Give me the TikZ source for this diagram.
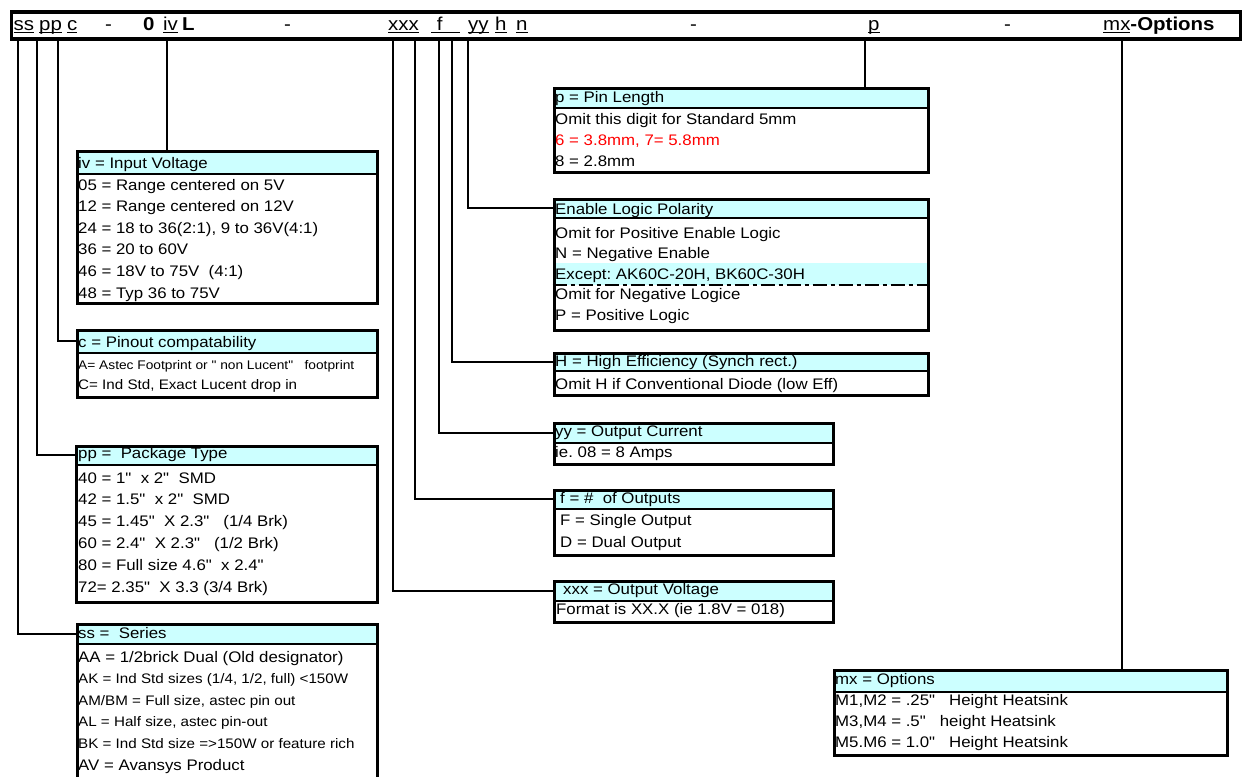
\documentclass[tikz,border=0pt]{standalone}
\usepackage{fontspec}
\setmainfont{Liberation Sans}[FakeStretch=1.1, Ligatures=TeXOff]
\usetikzlibrary{positioning}
\definecolor{hdcyan}{HTML}{CCFFFF}
\newcommand\undl[1]{\setbox0\hbox{#1}\rlap{\rule[-2.4pt]{\wd0}{1.3pt}}\box0}
\newcommand\medsz{\fontsize{13.8}{16}\selectfont}
\newcommand\smsz{\fontsize{12.5}{15}\selectfont}
\tikzset{
  partbar/.style={draw, line width=3.5pt, anchor=north west, inner sep=0pt},
  boxframe/.style={draw, line width=3.5pt, anchor=north west, inner sep=0pt},
  hdband/.style={draw, fill=hdcyan, line width=2pt, anchor=north west, inner sep=0pt},
  tok/.style={anchor=base west, inner sep=0pt, font=\fontsize{18.6}{22}\selectfont},
  txt/.style={anchor=base west, inner sep=0pt, font=\fontsize{15.3}{18}\selectfont},
  conn/.style={line width=1.8pt},
}
\begin{document}
\frenchspacing
\begin{tikzpicture}[x=1pt,y=-1pt]
\useasboundingbox (0,0) rectangle (1244,776);
\clip (0,0) rectangle (1244,776);
% part number bar
\node[partbar, minimum width=1229pt, minimum height=27pt] (bar) at (9.5,10.5) {};
\node[tok] (hss) at (13.5,31) {\undl{ss}};
\node[tok] (hpp) at (39,31) {\undl{pp}};
\node[tok] (hc) at (67,31) {\undl{c}};
\node[tok] (hd1) at (105,31) {-};
\node[tok] (h0) at (143,31) {\textbf{0}};
\node[tok] (hiv) at (163,31) {\undl{iv}};
\node[tok] (hL) at (182,31) {\textbf{L}};
\node[tok] (hd2) at (284,31) {-};
\node[tok] (hxxx) at (388,31) {\undl{xxx}};
\node[tok] (hf) at (431,31) {\undl{\ f\ \ \ }};
\node[tok] (hyy) at (468,31) {\undl{yy}};
\node[tok] (hh) at (495,31) {\undl{h}};
\node[tok] (hn) at (516,31) {\undl{n}};
\node[tok] (hd3) at (690,31) {-};
\node[tok] (hp) at (868,31) {\undl{p}};
\node[tok] (hd4) at (1004,31) {-};
\node[tok] (hmx) at (1103,31) {\undl{mx}\textbf{-Options}};
% drop points under the bar
\coordinate (tss) at (18,39);
\coordinate (tpp) at (37,39);
\coordinate (tc) at (58,39);
\coordinate (tiv) at (167,39);
\coordinate (txxx) at (393,39);
\coordinate (tf) at (415,39);
\coordinate (tyy) at (439,39);
\coordinate (th) at (452,39);
\coordinate (tn) at (468,39);
\coordinate (tp) at (865,39);
\coordinate (tmx) at (1122,39);

% iv = input voltage
\node[hdband, minimum width=300pt, minimum height=23.5pt] (ivhd) at (75.5,149.5) {};
\node[txt] (ivt0) at (78,168) {iv = Input Voltage};
\foreach \t [count=\i] in {{05 = Range centered on 5V}, {12 = Range centered on 12V},
    {24 = 18 to 36(2:1), 9 to 36V(4:1)}, {36 = 20 to 60V}, {46 = 18V to 75V\ \ (4:1)},
    {48 = Typ 36 to 75V}}
  \node[txt] (ivt\i) at (78,{168.4+21.6*\i}) {\t};
\node[boxframe, minimum width=300pt, minimum height=152pt] (ivbox) at (75.5,149.5) {};

% c = pinout
\node[hdband, minimum width=300pt, minimum height=23.5pt] (chd) at (75.5,328.5) {};
\node[txt] (ct0) at (78,347) {c = Pinout compatability};
\node[txt] (ct1) at (78,369) {\smsz A= Astec Footprint or "\ non Lucent"\ \ \ footprint};
\node[txt] (ct2) at (78,389) {\medsz C= Ind Std, Exact Lucent drop in};
\node[boxframe, minimum width=300pt, minimum height=67pt] (cbox) at (75.5,328.5) {};

% pp = package
\node[hdband, minimum width=301pt, minimum height=19pt] (pphd) at (74.5,444.5) {};
\node[txt] (ppt0) at (78,458) {pp =\ \ Package Type};
\foreach \t [count=\i] in {{40 = 1"\ \ x 2"\ \ SMD}, {42 = 1.5"\ \ x 2"\ \ SMD},
    {45 = 1.45"\ \ X 2.3"\ \ \ (1/4 Brk)}, {60 = 2.4"\ \ X 2.3"\ \ \ (1/2 Brk)},
    {80 = Full size 4.6"\ \ x 2.4"}, {72= 2.35"\ \ X 3.3 (3/4 Brk)}}
  \node[txt] (ppt\i) at (78,{461.2+21.8*\i}) {\t};
\node[boxframe, minimum width=301pt, minimum height=156pt] (ppbox) at (74.5,444.5) {};

% ss = series
\node[hdband, minimum width=300pt, minimum height=20.5pt] (sshd) at (75.5,622.5) {};
\node[txt] (sst0) at (78,638) {ss =\ \ Series};
\foreach \t [count=\i] in {{AA = 1/2brick Dual (Old designator)},
    {\medsz AK = Ind Std sizes (1/4, 1/2, full) <150W}, {\medsz AM/BM = Full size, astec pin out},
    {\medsz AL = Half size, astec pin-out}, {\medsz BK = Ind Std size =>150W or feature rich},
    {AV = Avansys Product}}
  \node[txt] (sst\i) at (78,{640.4+21.6*\i}) {\t};
\node[boxframe, minimum width=300pt, minimum height=170pt] (ssbox) at (75.5,622.5) {};

% p = pin length
\node[hdband, minimum width=374pt, minimum height=20.5pt] (phd) at (552.5,86.5) {};
\node[txt] (pt0) at (555,102) {p = Pin Length};
\foreach \t [count=\i] in {{Omit this digit for Standard 5mm}, {\color{red}6 = 3.8mm, 7= 5.8mm},
    {8 = 2.8mm}}
  \node[txt] (pt\i) at (555,{103+21*\i}) {\t};
\node[boxframe, minimum width=374pt, minimum height=84pt] (pbox) at (552.5,86.5) {};

% enable logic
\node[hdband, minimum width=374pt, minimum height=19.5pt] (enhd) at (552.5,197.5) {};
\fill[hdcyan] (552.5,263) rectangle (926.5,285);
\draw[line width=2pt, dash pattern=on 14pt off 4pt on 4pt off 4pt] (552.5,285) -- (926.5,285);
\node[txt] (ent0) at (555,214) {Enable Logic Polarity};
\foreach \t [count=\i] in {{Omit for Positive Enable Logic}, {N = Negative Enable},
    {Except: AK60C-20H, BK60C-30H}, {Omit for Negative Logice}, {P = Positive Logic}}
  \node[txt] (ent\i) at (555,{217.5+20.5*\i}) {\t};
\node[boxframe, minimum width=374pt, minimum height=131pt] (enbox) at (552.5,197.5) {};

% H = efficiency
\node[hdband, minimum width=374pt, minimum height=18.5pt] (hhd) at (552.5,351.5) {};
\node[txt] (ht0) at (555,366) {H = High Efficiency (Synch rect.)};
\node[txt] (ht1) at (555,389) {Omit H if Conventional Diode (low Eff)};
\node[boxframe, minimum width=374pt, minimum height=42pt] (hbox) at (552.5,351.5) {};

% yy = current
\node[hdband, minimum width=279pt, minimum height=20.5pt] (yyhd) at (552.5,421.5) {};
\node[txt] (yyt0) at (555,436) {yy = Output Current};
\node[txt] (yyt1) at (555,457) {ie. 08 = 8 Amps};
\node[boxframe, minimum width=279pt, minimum height=41pt] (yybox) at (552.5,421.5) {};

% f = outputs
\node[hdband, minimum width=279pt, minimum height=19.5pt] (fhd) at (552.5,488.5) {};
\node[txt] (ft0) at (560,503) {f = \#\ \ of Outputs};
\node[txt] (ft1) at (560,525) {F = Single Output};
\node[txt] (ft2) at (560,547) {D = Dual Output};
\node[boxframe, minimum width=279pt, minimum height=65pt] (fbox) at (552.5,488.5) {};

% xxx = voltage
\node[hdband, minimum width=279pt, minimum height=20.5pt] (xxxhd) at (552.5,579.5) {};
\node[txt] (xxxt0) at (563,594) {xxx = Output Voltage};
\node[txt] (xxxt1) at (556,614) {Format is XX.X (ie 1.8V = 018)};
\node[boxframe, minimum width=279pt, minimum height=41pt] (xxxbox) at (552.5,579.5) {};

% mx = options
\node[hdband, minimum width=393pt, minimum height=22.5pt] (mxhd) at (832.5,668.5) {};
\node[txt] (mxt0) at (835,684) {mx = Options};
\foreach \t [count=\i] in {{M1,M2 = .25"\ \ \ Height Heatsink}, {M3,M4 = .5"\ \ \ height Heatsink},
    {M5.M6 = 1.0"\ \ \ Height Heatsink}}
  \node[txt] (mxt\i) at (835,{684+21*\i}) {\t};
\node[boxframe, minimum width=393pt, minimum height=85pt] (mxbox) at (832.5,668.5) {};

% leaders
\draw[conn] (tss) |- (sshd.west);
\draw[conn] (tpp) |- (pphd.west);
\draw[conn] (tc) |- (chd.west);
\draw[conn] (tiv) -- (tiv |- ivbox.north);
\draw[conn] (txxx) |- (xxxhd.west);
\draw[conn] (tf) |- (fhd.west);
\draw[conn] (tyy) |- (yyhd.west);
\draw[conn] (th) |- (hhd.west);
\draw[conn] (tn) |- (enhd.west);
\draw[conn] (tp) -- (tp |- pbox.north);
\draw[conn] (tmx) -- (tmx |- mxbox.north);
\end{tikzpicture}
\end{document}
